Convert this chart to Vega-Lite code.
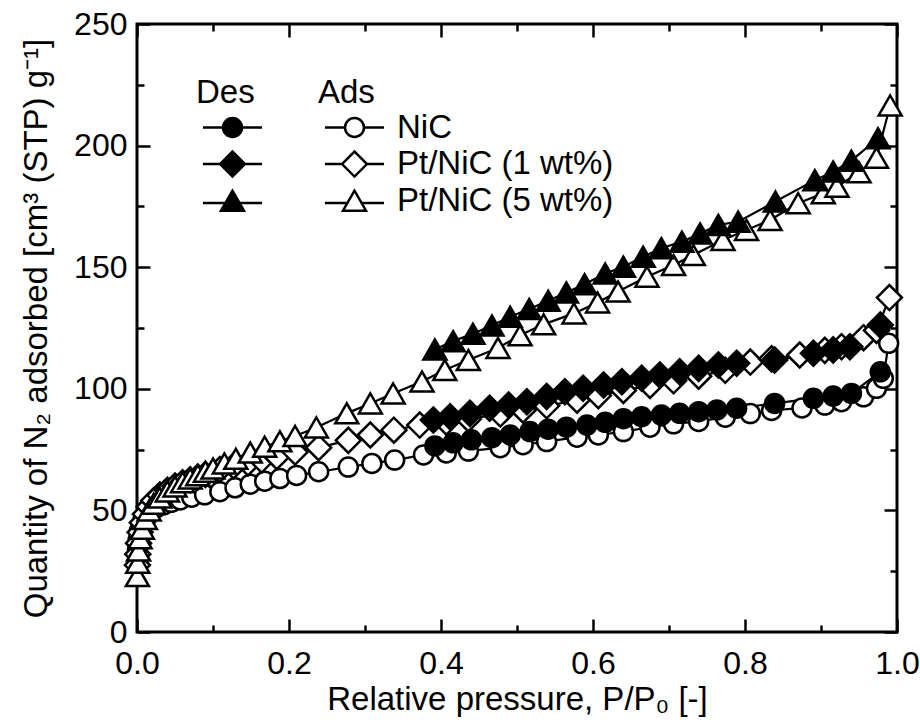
{
  "$schema": "https://vega.github.io/schema/vega-lite/v6.json",
  "width": 760,
  "height": 608,
  "autosize": {"type": "none"},
  "padding": {"left": 137, "top": 24, "right": 23, "bottom": 94},
  "background": "white",
  "config": {
    "view": {"stroke": "black", "strokeWidth": 3},
    "font": "Liberation Sans",
    "axis": {"domain": false, "grid": false, "tickColor": "black", "tickWidth": 2.5, "labelFont": "Liberation Sans", "labelFontSize": 32, "labelColor": "black", "titleFont": "Liberation Sans", "titleFontSize": 33, "titleFontWeight": "normal", "titleColor": "black", "labelFlush": false, "labelOverlap": false},
    "legend": {"titleFont": "Liberation Sans", "labelFont": "Liberation Sans", "titleFontSize": 33, "labelFontSize": 33, "titleFontWeight": "normal", "titleColor": "black", "labelColor": "black", "symbolSize": 900, "symbolStrokeWidth": 2.5, "symbolOpacity": 1, "clipHeight": 30, "rowPadding": 3.6, "titlePadding": 2.5, "padding": 0, "symbolOffset": 20, "labelOffset": 26, "labelLimit": 400}
  },
  "data": {"values": [
    {"sample":"NiC","branch":"ads","p":0.0008,"q":34},
    {"sample":"NiC","branch":"ads","p":0.0015,"q":38},
    {"sample":"NiC","branch":"ads","p":0.003,"q":41.5},
    {"sample":"NiC","branch":"ads","p":0.005,"q":44},
    {"sample":"NiC","branch":"ads","p":0.008,"q":46.3},
    {"sample":"NiC","branch":"ads","p":0.012,"q":48.2},
    {"sample":"NiC","branch":"ads","p":0.018,"q":49.8},
    {"sample":"NiC","branch":"ads","p":0.025,"q":51},
    {"sample":"NiC","branch":"ads","p":0.035,"q":52.3},
    {"sample":"NiC","branch":"ads","p":0.045,"q":53.3},
    {"sample":"NiC","branch":"ads","p":0.057,"q":54.3},
    {"sample":"NiC","branch":"ads","p":0.072,"q":55.4},
    {"sample":"NiC","branch":"ads","p":0.089,"q":56.4},
    {"sample":"NiC","branch":"ads","p":0.109,"q":57.7},
    {"sample":"NiC","branch":"ads","p":0.129,"q":59.3},
    {"sample":"NiC","branch":"ads","p":0.149,"q":60.8},
    {"sample":"NiC","branch":"ads","p":0.168,"q":62},
    {"sample":"NiC","branch":"ads","p":0.188,"q":63.1},
    {"sample":"NiC","branch":"ads","p":0.21,"q":64.4},
    {"sample":"NiC","branch":"ads","p":0.239,"q":65.9},
    {"sample":"NiC","branch":"ads","p":0.278,"q":67.8},
    {"sample":"NiC","branch":"ads","p":0.309,"q":69.3},
    {"sample":"NiC","branch":"ads","p":0.339,"q":70.7},
    {"sample":"NiC","branch":"ads","p":0.377,"q":72.8},
    {"sample":"NiC","branch":"ads","p":0.407,"q":73.6},
    {"sample":"NiC","branch":"ads","p":0.436,"q":74.4},
    {"sample":"NiC","branch":"ads","p":0.478,"q":75.8},
    {"sample":"NiC","branch":"ads","p":0.508,"q":77},
    {"sample":"NiC","branch":"ads","p":0.539,"q":78.3},
    {"sample":"NiC","branch":"ads","p":0.579,"q":80.1},
    {"sample":"NiC","branch":"ads","p":0.607,"q":81},
    {"sample":"NiC","branch":"ads","p":0.64,"q":82.4},
    {"sample":"NiC","branch":"ads","p":0.675,"q":84.2},
    {"sample":"NiC","branch":"ads","p":0.706,"q":85.6},
    {"sample":"NiC","branch":"ads","p":0.739,"q":86.6},
    {"sample":"NiC","branch":"ads","p":0.774,"q":88.3},
    {"sample":"NiC","branch":"ads","p":0.807,"q":89.8},
    {"sample":"NiC","branch":"ads","p":0.835,"q":91.1},
    {"sample":"NiC","branch":"ads","p":0.875,"q":92.1},
    {"sample":"NiC","branch":"ads","p":0.905,"q":93.3},
    {"sample":"NiC","branch":"ads","p":0.927,"q":94.7},
    {"sample":"NiC","branch":"ads","p":0.956,"q":96.7},
    {"sample":"NiC","branch":"ads","p":0.973,"q":100.2},
    {"sample":"NiC","branch":"ads","p":0.982,"q":104.3},
    {"sample":"NiC","branch":"ads","p":0.989,"q":118.7},
    {"sample":"NiC","branch":"des","p":0.978,"q":107},
    {"sample":"NiC","branch":"des","p":0.94,"q":98.1},
    {"sample":"NiC","branch":"des","p":0.916,"q":97},
    {"sample":"NiC","branch":"des","p":0.89,"q":96.1},
    {"sample":"NiC","branch":"des","p":0.839,"q":94},
    {"sample":"NiC","branch":"des","p":0.789,"q":92},
    {"sample":"NiC","branch":"des","p":0.763,"q":91.3},
    {"sample":"NiC","branch":"des","p":0.739,"q":90.6},
    {"sample":"NiC","branch":"des","p":0.714,"q":89.9},
    {"sample":"NiC","branch":"des","p":0.69,"q":89.2},
    {"sample":"NiC","branch":"des","p":0.664,"q":88.5},
    {"sample":"NiC","branch":"des","p":0.64,"q":87.7},
    {"sample":"NiC","branch":"des","p":0.616,"q":86.2},
    {"sample":"NiC","branch":"des","p":0.592,"q":85.1},
    {"sample":"NiC","branch":"des","p":0.565,"q":84.2},
    {"sample":"NiC","branch":"des","p":0.541,"q":83.4},
    {"sample":"NiC","branch":"des","p":0.517,"q":82.4},
    {"sample":"NiC","branch":"des","p":0.491,"q":81},
    {"sample":"NiC","branch":"des","p":0.467,"q":79.9},
    {"sample":"NiC","branch":"des","p":0.44,"q":79},
    {"sample":"NiC","branch":"des","p":0.416,"q":77.8},
    {"sample":"NiC","branch":"des","p":0.392,"q":76.5},
    {"sample":"Pt/NiC (1 wt%)","branch":"ads","p":0.0005,"q":27.5},
    {"sample":"Pt/NiC (1 wt%)","branch":"ads","p":0.001,"q":32},
    {"sample":"Pt/NiC (1 wt%)","branch":"ads","p":0.002,"q":36.5},
    {"sample":"Pt/NiC (1 wt%)","branch":"ads","p":0.004,"q":41},
    {"sample":"Pt/NiC (1 wt%)","branch":"ads","p":0.007,"q":45},
    {"sample":"Pt/NiC (1 wt%)","branch":"ads","p":0.011,"q":48.5},
    {"sample":"Pt/NiC (1 wt%)","branch":"ads","p":0.016,"q":51.5},
    {"sample":"Pt/NiC (1 wt%)","branch":"ads","p":0.022,"q":54},
    {"sample":"Pt/NiC (1 wt%)","branch":"ads","p":0.03,"q":56.3},
    {"sample":"Pt/NiC (1 wt%)","branch":"ads","p":0.04,"q":58.3},
    {"sample":"Pt/NiC (1 wt%)","branch":"ads","p":0.05,"q":60},
    {"sample":"Pt/NiC (1 wt%)","branch":"ads","p":0.06,"q":61.4},
    {"sample":"Pt/NiC (1 wt%)","branch":"ads","p":0.07,"q":62.6},
    {"sample":"Pt/NiC (1 wt%)","branch":"ads","p":0.08,"q":63.7},
    {"sample":"Pt/NiC (1 wt%)","branch":"ads","p":0.09,"q":64.8},
    {"sample":"Pt/NiC (1 wt%)","branch":"ads","p":0.109,"q":66.8},
    {"sample":"Pt/NiC (1 wt%)","branch":"ads","p":0.127,"q":68.3},
    {"sample":"Pt/NiC (1 wt%)","branch":"ads","p":0.146,"q":69.5},
    {"sample":"Pt/NiC (1 wt%)","branch":"ads","p":0.164,"q":70.7},
    {"sample":"Pt/NiC (1 wt%)","branch":"ads","p":0.184,"q":72.1},
    {"sample":"Pt/NiC (1 wt%)","branch":"ads","p":0.208,"q":74},
    {"sample":"Pt/NiC (1 wt%)","branch":"ads","p":0.239,"q":75.8},
    {"sample":"Pt/NiC (1 wt%)","branch":"ads","p":0.278,"q":78.8},
    {"sample":"Pt/NiC (1 wt%)","branch":"ads","p":0.307,"q":81},
    {"sample":"Pt/NiC (1 wt%)","branch":"ads","p":0.338,"q":83},
    {"sample":"Pt/NiC (1 wt%)","branch":"ads","p":0.372,"q":85.1},
    {"sample":"Pt/NiC (1 wt%)","branch":"ads","p":0.407,"q":86.3},
    {"sample":"Pt/NiC (1 wt%)","branch":"ads","p":0.436,"q":87.6},
    {"sample":"Pt/NiC (1 wt%)","branch":"ads","p":0.478,"q":89.6},
    {"sample":"Pt/NiC (1 wt%)","branch":"ads","p":0.508,"q":91.2},
    {"sample":"Pt/NiC (1 wt%)","branch":"ads","p":0.539,"q":93},
    {"sample":"Pt/NiC (1 wt%)","branch":"ads","p":0.579,"q":95.3},
    {"sample":"Pt/NiC (1 wt%)","branch":"ads","p":0.607,"q":97.2},
    {"sample":"Pt/NiC (1 wt%)","branch":"ads","p":0.64,"q":99.3},
    {"sample":"Pt/NiC (1 wt%)","branch":"ads","p":0.675,"q":101.4},
    {"sample":"Pt/NiC (1 wt%)","branch":"ads","p":0.706,"q":103.3},
    {"sample":"Pt/NiC (1 wt%)","branch":"ads","p":0.739,"q":105.2},
    {"sample":"Pt/NiC (1 wt%)","branch":"ads","p":0.774,"q":107.6},
    {"sample":"Pt/NiC (1 wt%)","branch":"ads","p":0.807,"q":111},
    {"sample":"Pt/NiC (1 wt%)","branch":"ads","p":0.835,"q":112.3},
    {"sample":"Pt/NiC (1 wt%)","branch":"ads","p":0.872,"q":113.9},
    {"sample":"Pt/NiC (1 wt%)","branch":"ads","p":0.905,"q":115.8},
    {"sample":"Pt/NiC (1 wt%)","branch":"ads","p":0.927,"q":117.3},
    {"sample":"Pt/NiC (1 wt%)","branch":"ads","p":0.956,"q":121},
    {"sample":"Pt/NiC (1 wt%)","branch":"ads","p":0.973,"q":124},
    {"sample":"Pt/NiC (1 wt%)","branch":"ads","p":0.99,"q":137.5},
    {"sample":"Pt/NiC (1 wt%)","branch":"des","p":0.978,"q":126.2},
    {"sample":"Pt/NiC (1 wt%)","branch":"des","p":0.938,"q":117.3},
    {"sample":"Pt/NiC (1 wt%)","branch":"des","p":0.916,"q":116},
    {"sample":"Pt/NiC (1 wt%)","branch":"des","p":0.89,"q":114.6},
    {"sample":"Pt/NiC (1 wt%)","branch":"des","p":0.839,"q":111.8},
    {"sample":"Pt/NiC (1 wt%)","branch":"des","p":0.789,"q":110.5},
    {"sample":"Pt/NiC (1 wt%)","branch":"des","p":0.765,"q":109.8},
    {"sample":"Pt/NiC (1 wt%)","branch":"des","p":0.739,"q":108.4},
    {"sample":"Pt/NiC (1 wt%)","branch":"des","p":0.714,"q":107},
    {"sample":"Pt/NiC (1 wt%)","branch":"des","p":0.688,"q":105.7},
    {"sample":"Pt/NiC (1 wt%)","branch":"des","p":0.664,"q":104.3},
    {"sample":"Pt/NiC (1 wt%)","branch":"des","p":0.638,"q":102.9},
    {"sample":"Pt/NiC (1 wt%)","branch":"des","p":0.614,"q":101.6},
    {"sample":"Pt/NiC (1 wt%)","branch":"des","p":0.587,"q":100.2},
    {"sample":"Pt/NiC (1 wt%)","branch":"des","p":0.563,"q":98.8},
    {"sample":"Pt/NiC (1 wt%)","branch":"des","p":0.539,"q":96.8},
    {"sample":"Pt/NiC (1 wt%)","branch":"des","p":0.513,"q":94.7},
    {"sample":"Pt/NiC (1 wt%)","branch":"des","p":0.489,"q":93.3},
    {"sample":"Pt/NiC (1 wt%)","branch":"des","p":0.464,"q":92},
    {"sample":"Pt/NiC (1 wt%)","branch":"des","p":0.438,"q":89.9},
    {"sample":"Pt/NiC (1 wt%)","branch":"des","p":0.412,"q":88.5},
    {"sample":"Pt/NiC (1 wt%)","branch":"des","p":0.39,"q":87.2},
    {"sample":"Pt/NiC (5 wt%)","branch":"ads","p":0.0005,"q":23},
    {"sample":"Pt/NiC (5 wt%)","branch":"ads","p":0.001,"q":28.5},
    {"sample":"Pt/NiC (5 wt%)","branch":"ads","p":0.002,"q":33.5},
    {"sample":"Pt/NiC (5 wt%)","branch":"ads","p":0.004,"q":38.5},
    {"sample":"Pt/NiC (5 wt%)","branch":"ads","p":0.007,"q":42.5},
    {"sample":"Pt/NiC (5 wt%)","branch":"ads","p":0.011,"q":46.5},
    {"sample":"Pt/NiC (5 wt%)","branch":"ads","p":0.016,"q":50},
    {"sample":"Pt/NiC (5 wt%)","branch":"ads","p":0.022,"q":52.7},
    {"sample":"Pt/NiC (5 wt%)","branch":"ads","p":0.03,"q":55.3},
    {"sample":"Pt/NiC (5 wt%)","branch":"ads","p":0.04,"q":57.8},
    {"sample":"Pt/NiC (5 wt%)","branch":"ads","p":0.05,"q":59.8},
    {"sample":"Pt/NiC (5 wt%)","branch":"ads","p":0.06,"q":61.6},
    {"sample":"Pt/NiC (5 wt%)","branch":"ads","p":0.07,"q":63.1},
    {"sample":"Pt/NiC (5 wt%)","branch":"ads","p":0.08,"q":64.5},
    {"sample":"Pt/NiC (5 wt%)","branch":"ads","p":0.09,"q":65.9},
    {"sample":"Pt/NiC (5 wt%)","branch":"ads","p":0.1,"q":67.2},
    {"sample":"Pt/NiC (5 wt%)","branch":"ads","p":0.115,"q":69.3},
    {"sample":"Pt/NiC (5 wt%)","branch":"ads","p":0.13,"q":71.2},
    {"sample":"Pt/NiC (5 wt%)","branch":"ads","p":0.149,"q":73.8},
    {"sample":"Pt/NiC (5 wt%)","branch":"ads","p":0.168,"q":76.2},
    {"sample":"Pt/NiC (5 wt%)","branch":"ads","p":0.188,"q":78.4},
    {"sample":"Pt/NiC (5 wt%)","branch":"ads","p":0.208,"q":80.6},
    {"sample":"Pt/NiC (5 wt%)","branch":"ads","p":0.236,"q":84.1},
    {"sample":"Pt/NiC (5 wt%)","branch":"ads","p":0.276,"q":89.9},
    {"sample":"Pt/NiC (5 wt%)","branch":"ads","p":0.307,"q":94},
    {"sample":"Pt/NiC (5 wt%)","branch":"ads","p":0.337,"q":98.1},
    {"sample":"Pt/NiC (5 wt%)","branch":"ads","p":0.375,"q":103},
    {"sample":"Pt/NiC (5 wt%)","branch":"ads","p":0.405,"q":107.7},
    {"sample":"Pt/NiC (5 wt%)","branch":"ads","p":0.436,"q":111.8},
    {"sample":"Pt/NiC (5 wt%)","branch":"ads","p":0.475,"q":116.8},
    {"sample":"Pt/NiC (5 wt%)","branch":"ads","p":0.504,"q":122},
    {"sample":"Pt/NiC (5 wt%)","branch":"ads","p":0.535,"q":126.5},
    {"sample":"Pt/NiC (5 wt%)","branch":"ads","p":0.575,"q":131},
    {"sample":"Pt/NiC (5 wt%)","branch":"ads","p":0.606,"q":135.5},
    {"sample":"Pt/NiC (5 wt%)","branch":"ads","p":0.633,"q":140},
    {"sample":"Pt/NiC (5 wt%)","branch":"ads","p":0.671,"q":146.1},
    {"sample":"Pt/NiC (5 wt%)","branch":"ads","p":0.706,"q":150.9},
    {"sample":"Pt/NiC (5 wt%)","branch":"ads","p":0.732,"q":155},
    {"sample":"Pt/NiC (5 wt%)","branch":"ads","p":0.771,"q":161.2},
    {"sample":"Pt/NiC (5 wt%)","branch":"ads","p":0.802,"q":165.3},
    {"sample":"Pt/NiC (5 wt%)","branch":"ads","p":0.833,"q":169.4},
    {"sample":"Pt/NiC (5 wt%)","branch":"ads","p":0.87,"q":176.3},
    {"sample":"Pt/NiC (5 wt%)","branch":"ads","p":0.903,"q":180.4},
    {"sample":"Pt/NiC (5 wt%)","branch":"ads","p":0.921,"q":183.1},
    {"sample":"Pt/NiC (5 wt%)","branch":"ads","p":0.95,"q":189},
    {"sample":"Pt/NiC (5 wt%)","branch":"ads","p":0.973,"q":195},
    {"sample":"Pt/NiC (5 wt%)","branch":"ads","p":0.991,"q":216.5},
    {"sample":"Pt/NiC (5 wt%)","branch":"des","p":0.975,"q":203},
    {"sample":"Pt/NiC (5 wt%)","branch":"des","p":0.94,"q":193.8},
    {"sample":"Pt/NiC (5 wt%)","branch":"des","p":0.916,"q":189.3},
    {"sample":"Pt/NiC (5 wt%)","branch":"des","p":0.892,"q":185.8},
    {"sample":"Pt/NiC (5 wt%)","branch":"des","p":0.84,"q":177},
    {"sample":"Pt/NiC (5 wt%)","branch":"des","p":0.791,"q":168.7},
    {"sample":"Pt/NiC (5 wt%)","branch":"des","p":0.765,"q":167.4},
    {"sample":"Pt/NiC (5 wt%)","branch":"des","p":0.741,"q":163.9},
    {"sample":"Pt/NiC (5 wt%)","branch":"des","p":0.717,"q":160.5},
    {"sample":"Pt/NiC (5 wt%)","branch":"des","p":0.69,"q":157.8},
    {"sample":"Pt/NiC (5 wt%)","branch":"des","p":0.666,"q":154.3},
    {"sample":"Pt/NiC (5 wt%)","branch":"des","p":0.64,"q":150.2},
    {"sample":"Pt/NiC (5 wt%)","branch":"des","p":0.616,"q":147.4},
    {"sample":"Pt/NiC (5 wt%)","branch":"des","p":0.589,"q":143},
    {"sample":"Pt/NiC (5 wt%)","branch":"des","p":0.565,"q":139.6},
    {"sample":"Pt/NiC (5 wt%)","branch":"des","p":0.541,"q":136.2},
    {"sample":"Pt/NiC (5 wt%)","branch":"des","p":0.516,"q":132.8},
    {"sample":"Pt/NiC (5 wt%)","branch":"des","p":0.491,"q":129.6},
    {"sample":"Pt/NiC (5 wt%)","branch":"des","p":0.467,"q":126},
    {"sample":"Pt/NiC (5 wt%)","branch":"des","p":0.442,"q":122.6},
    {"sample":"Pt/NiC (5 wt%)","branch":"des","p":0.416,"q":119.6},
    {"sample":"Pt/NiC (5 wt%)","branch":"des","p":0.392,"q":116.2}
  ]},
  "resolve": {"scale": {"shape": "independent", "stroke": "independent"}, "axis": {"x": "independent", "y": "independent"}},
  "layer": [
    {
      "mark": {"type": "line", "color": "black", "strokeWidth": 2.2},
      "encoding": {
        "x": {"field": "p", "type": "quantitative", "scale": {"domain": [0, 1], "nice": false},
              "axis": {"orient": "bottom", "values": [0, 0.2, 0.4, 0.6, 0.8, 1], "format": ".1f", "tickSize": -13, "labelPadding": 29.5, "title": "Relative pressure, P/P₀ [-]", "titlePadding": 4}},
        "y": {"field": "q", "type": "quantitative", "scale": {"domain": [0, 250], "nice": false},
              "axis": {"orient": "left", "values": [0, 50, 100, 150, 200, 250], "tickSize": -13, "labelPadding": 23, "title": "Quantity of N₂ adsorbed [cm³ (STP) g⁻¹]", "titlePadding": 20}},
        "detail": [{"field": "sample"}, {"field": "branch"}]
      }
    },
    {
      "transform": [{"filter": "datum.branch == 'ads'"}],
      "mark": {"type": "point", "filled": true, "fill": "white", "stroke": "black", "strokeWidth": 2.5, "size": 625, "opacity": 1},
      "encoding": {
        "x": {"field": "p", "type": "quantitative", "axis": {"orient": "top", "values": [0, 0.2, 0.4, 0.6, 0.8, 1], "tickSize": -13, "labels": false, "title": null}},
        "y": {"field": "q", "type": "quantitative", "axis": {"orient": "right", "values": [0, 50, 100, 150, 200, 250], "tickSize": -13, "labels": false, "title": null}},
        "shape": {"field": "sample", "type": "nominal", "legend": null,
                  "scale": {"domain": ["NiC", "Pt/NiC (1 wt%)", "Pt/NiC (5 wt%)"], "range": ["M -0.76 0 A 0.76 0.76 0 1 0 0.76 0 A 0.76 0.76 0 1 0 -0.76 0 Z", "diamond", "M 0 -0.8 L -0.92 0.8 L 0.92 0.8 Z"]}}
      }
    },
    {
      "transform": [{"filter": "datum.branch == 'des'"}],
      "mark": {"type": "point", "filled": true, "fill": "black", "stroke": "black", "strokeWidth": 2.5, "size": 625, "opacity": 1},
      "encoding": {
        "x": {"field": "p", "type": "quantitative", "axis": {"orient": "bottom", "values": [0.1, 0.3, 0.5, 0.7, 0.9], "tickSize": -7, "labels": false, "title": null}},
        "y": {"field": "q", "type": "quantitative", "axis": {"orient": "left", "values": [25, 75, 125, 175, 225], "tickSize": -7, "labels": false, "title": null}},
        "shape": {"field": "sample", "type": "nominal", "legend": null,
                  "scale": {"domain": ["NiC", "Pt/NiC (1 wt%)", "Pt/NiC (5 wt%)"], "range": ["M -0.76 0 A 0.76 0.76 0 1 0 0.76 0 A 0.76 0.76 0 1 0 -0.76 0 Z", "diamond", "M 0 -0.8 L -0.92 0.8 L 0.92 0.8 Z"]}}
      }
    },
    {
      "transform": [{"filter": "datum.branch == 'des'"}],
      "mark": {"type": "point", "filled": true, "fill": "black", "opacity": 0},
      "encoding": {
        "x": {"field": "p", "type": "quantitative", "axis": {"orient": "top", "values": [0.1, 0.3, 0.5, 0.7, 0.9], "tickSize": -7, "labels": false, "title": null}},
        "y": {"field": "q", "type": "quantitative", "axis": {"orient": "right", "values": [25, 75, 125, 175, 225], "tickSize": -7, "labels": false, "title": null}},
        "shape": {"field": "sample", "type": "nominal",
                  "scale": {"domain": ["NiC", "Pt/NiC (1 wt%)", "Pt/NiC (5 wt%)"], "range": ["M -1.97 0 H -0.633 M 0.633 0 H 1.97 M -0.633 0 A 0.633 0.633 0 1 0 0.633 0 A 0.633 0.633 0 1 0 -0.633 0 Z", "M -1.97 0 H -0.833 M 0.833 0 H 1.97 M -0.833 0 L 0 -0.833 L 0.833 0 L 0 0.833 Z", "M -1.97 0.15 H -0.47 M 0.47 0.15 H 1.97 M 0 -0.667 L -0.767 0.667 L 0.767 0.667 Z"]},
                  "legend": {"title": "Des", "orient": "none", "legendX": 59, "legendY": 53, "labelExpr": "''"}},
        "stroke": {"field": "sample", "type": "nominal",
                  "scale": {"domain": ["NiC", "Pt/NiC (1 wt%)", "Pt/NiC (5 wt%)"], "range": ["black", "black", "black"]},
                  "legend": {"title": "Des", "orient": "none", "legendX": 59, "legendY": 53, "labelExpr": "''"}}
      }
    },
    {
      "transform": [{"filter": "datum.branch == 'ads'"}],
      "mark": {"type": "point", "filled": true, "fill": "white", "opacity": 0},
      "encoding": {
        "x": {"field": "p", "type": "quantitative", "axis": null},
        "y": {"field": "q", "type": "quantitative", "axis": null},
        "shape": {"field": "sample", "type": "nominal",
                  "scale": {"domain": ["NiC", "Pt/NiC (1 wt%)", "Pt/NiC (5 wt%)"], "range": ["M -1.97 0 H -0.633 M 0.633 0 H 1.97 M -0.633 0 A 0.633 0.633 0 1 0 0.633 0 A 0.633 0.633 0 1 0 -0.633 0 Z", "M -1.97 0 H -0.833 M 0.833 0 H 1.97 M -0.833 0 L 0 -0.833 L 0.833 0 L 0 0.833 Z", "M -1.97 0.15 H -0.47 M 0.47 0.15 H 1.97 M 0 -0.667 L -0.767 0.667 L 0.767 0.667 Z"]},
                  "legend": {"title": "Ads", "orient": "none", "legendX": 181, "legendY": 53}},
        "stroke": {"field": "sample", "type": "nominal",
                  "scale": {"domain": ["NiC", "Pt/NiC (1 wt%)", "Pt/NiC (5 wt%)"], "range": ["black", "black", "black"]},
                  "legend": {"title": "Ads", "orient": "none", "legendX": 181, "legendY": 53}}
      }
    }
  ]
}
